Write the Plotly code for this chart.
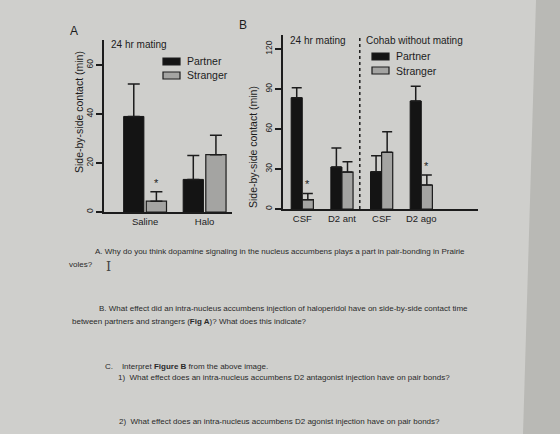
import plotly.graph_objects as go

W, H = 560, 434

# ---------------- data ----------------
# Panel A (24 hr mating)
a_groups = ["Saline", "Halo"]
a_partner = [39, 13.3]
a_partner_sem = [13.2, 9.8]
a_stranger = [4.4, 23.4]
a_stranger_sem = [3.9, 7.9]
a_stranger_star = ["*", ""]
a_yticks = [0, 20, 40, 60]

# Panel B (24 hr mating | Cohab without mating)
b_groups = ["CSF", "D2 ant", "CSF", "D2 ago"]
b_partner = [83.5, 31.5, 28, 81]
b_partner_sem = [7.5, 14.2, 12, 11]
b_stranger = [7, 27.7, 42.5, 18]
b_stranger_sem = [4.7, 7.8, 15.5, 7.5]
b_stranger_star = ["*", "", "", "*"]
b_yticks = [0, 30, 60, 90, 120]

series_names = ["Partner", "Stranger"]

questions = [
    ("A. Why do you think dopamine signaling in the nucleus accumbens plays a part in pair-bonding in Prairie", 93, 251),
    ("voles?", 67, 264),
    ("B. What effect did an intra-nucleus accumbens injection of haloperidol have on side-by-side contact time", 97, 308),
    ("between partners and strangers (<b>Fig A</b>)? What does this indicate?", 70, 321),
    ("C.    Interpret <b>Figure B</b> from the above image.", 103, 366),
    ("1)  What effect does an intra-nucleus accumbens D2 antagonist injection have on pair bonds?", 116, 377),
    ("2)  What effect does an intra-nucleus accumbens D2 agonist injection have on pair bonds?", 117, 421),
]

BLACK = "#141414"
GRAY = "#a4a4a2"
INK = "#1c1c1c"
FONT = "Liberation Sans, Arial, sans-serif"
series_colors = [BLACK, GRAY]


def px(x):
    return x / W


def py(y):
    return 1 - y / H


fig = go.Figure()

# ---------------- panel A bars ----------------
wa = 0.34
fig.add_trace(go.Bar(
    x=a_groups, y=a_partner, name=series_names[0], width=wa, offset=-wa - 0.02,
    marker=dict(color=BLACK, line=dict(color=BLACK, width=1)),
    error_y=dict(type="data", array=a_partner_sem, arrayminus=[0] * len(a_partner),
                 symmetric=False, color=INK, thickness=1.5, width=6),
    xaxis="x", yaxis="y", showlegend=False,
))
fig.add_trace(go.Bar(
    x=a_groups, y=a_stranger, name=series_names[1], width=wa, offset=0.02,
    marker=dict(color=GRAY, line=dict(color=INK, width=1.2)),
    error_y=dict(type="data", array=a_stranger_sem, arrayminus=[0] * len(a_stranger),
                 symmetric=False, color=INK, thickness=1.5, width=6),
    xaxis="x", yaxis="y", showlegend=False,
))

# ---------------- panel B bars ----------------
wb = 0.28
bx = list(range(len(b_groups)))
fig.add_trace(go.Bar(
    x=bx, y=b_partner, name=series_names[0], width=wb, offset=-wb,
    marker=dict(color=BLACK, line=dict(color=BLACK, width=1)),
    error_y=dict(type="data", array=b_partner_sem, arrayminus=[0] * len(b_partner),
                 symmetric=False, color=INK, thickness=1.5, width=5),
    xaxis="x2", yaxis="y2", showlegend=False,
))
fig.add_trace(go.Bar(
    x=bx, y=b_stranger, name=series_names[1], width=wb, offset=0,
    marker=dict(color=GRAY, line=dict(color=INK, width=1.2)),
    error_y=dict(type="data", array=b_stranger_sem, arrayminus=[0] * len(b_stranger),
                 symmetric=False, color=INK, thickness=1.5, width=5),
    xaxis="x2", yaxis="y2", showlegend=False,
))

annotations = []
shapes = []

# significance stars (placed from data)
for g, v, s, star in zip(a_groups, a_stranger, a_stranger_sem, a_stranger_star):
    if star:
        annotations.append(dict(x=g, y=v + s, xref="x", yref="y", text=star, showarrow=False,
                                xshift=wa / 2 * 59.5 + 1, yanchor="bottom", yshift=1,
                                font=dict(size=11, color=INK, family=FONT)))
for i, v, s, star in zip(bx, b_stranger, b_stranger_sem, b_stranger_star):
    if star:
        annotations.append(dict(x=i + wb / 2, y=v + s, xref="x2", yref="y2", text=star, showarrow=False,
                                yanchor="bottom", yshift=1,
                                font=dict(size=11, color=INK, family=FONT)))

# legends (drawn as key swatches + labels)
for (bx0, by0) in [(163, 58), (372, 53)]:
    for k, (nm, col) in enumerate(zip(series_names, series_colors)):
        top = by0 + k * 14
        shapes.append(dict(type="rect", xref="paper", yref="paper",
                           x0=px(bx0), x1=px(bx0 + 17), y0=py(top + 7), y1=py(top),
                           fillcolor=col, line=dict(color=INK, width=1.2)))
        annotations.append(dict(x=px(bx0 + 22), y=py(top + 3.5), text=nm, xanchor="left",
                                font=dict(size=10.5, color=INK, family=FONT)))

# panel labels and headers
annotations += [
    dict(x=px(68), y=py(31), text="A", font=dict(size=12, color=INK, family=FONT)),
    dict(x=px(243), y=py(25), text="B", font=dict(size=12, color=INK, family=FONT)),
    dict(x=px(109), y=py(44), text="24 hr mating", xanchor="left", font=dict(size=10, color=INK, family=FONT)),
    dict(x=px(288), y=py(40), text="24 hr mating", xanchor="left", font=dict(size=10, color=INK, family=FONT)),
    dict(x=px(364), y=py(40), text="Cohab without mating", xanchor="left", font=dict(size=10, color=INK, family=FONT)),
    dict(x=px(71), y=py(112), text="Side-by-side contact (min)", textangle=-90,
         font=dict(size=10.5, color=INK, family=FONT)),
    dict(x=px(253), y=py(147), text="Side-by-side contact (min)", textangle=-90,
         font=dict(size=10.5, color=INK, family=FONT)),
    dict(x=px(104), y=py(266), text="I", font=dict(size=13, color="#444", family="DejaVu Serif, serif")),
]
for t, x0, y0 in questions:
    annotations.append(dict(x=px(x0), y=py(y0), text=t, xanchor="left",
                            font=dict(size=8, color="#2a2a2a", family=FONT)))

for a in annotations:
    a.setdefault("xref", "paper")
    a.setdefault("yref", "paper")
    a.setdefault("showarrow", False)
    a.setdefault("yanchor", "middle")

shapes += [
    # right page edge (darker strip)
    dict(type="path", xref="paper", yref="paper",
         path=f"M {px(536)},{py(0)} L 1,{py(0)} L 1,0 L {px(523)},0 Z",
         fillcolor="#b9b9b5", line=dict(width=0), layer="below"),
    # dashed separator in panel B
    dict(type="line", xref="x2", yref="y2 domain", x0=1.45, x1=1.45, y0=0, y1=1,
         line=dict(color=INK, width=1.5, dash="dot")),
]

axis_common = dict(showline=True, linecolor=INK, linewidth=1.5, showgrid=False, zeroline=False,
                   tickfont=dict(size=8.5, color=INK, family=FONT))
xtickfont = dict(size=9.5, color=INK, family=FONT)

fig.update_layout(
    width=W, height=H, margin=dict(l=0, r=0, t=0, b=0),
    paper_bgcolor="#cfcfcc", plot_bgcolor="rgba(0,0,0,0)",
    barmode="overlay", showlegend=False,
    font=dict(family=FONT, color=INK),
    xaxis=dict(domain=[px(104), px(232)], range=[-0.69, 1.46], anchor="y",
               ticks="", **{**axis_common, "tickfont": xtickfont}),
    yaxis=dict(domain=[py(212), py(40)], range=[0, 70.2], anchor="x",
               tickvals=a_yticks, ticks="outside", ticklen=6, tickwidth=1.5, tickcolor=INK,
               tickangle=-90, **axis_common),
    xaxis2=dict(domain=[px(283), px(478)], range=[-0.486, 4.43], anchor="y2",
                tickvals=bx, ticktext=b_groups, ticks="",
                **{**axis_common, "tickfont": xtickfont}),
    yaxis2=dict(domain=[py(209), py(35)], range=[0, 130.5], anchor="x2",
                tickvals=b_yticks, ticks="outside", ticklen=6, tickwidth=1.5, tickcolor=INK,
                tickangle=-90, **axis_common),
    annotations=annotations,
    shapes=shapes,
)

fig.write_html("out.html")
